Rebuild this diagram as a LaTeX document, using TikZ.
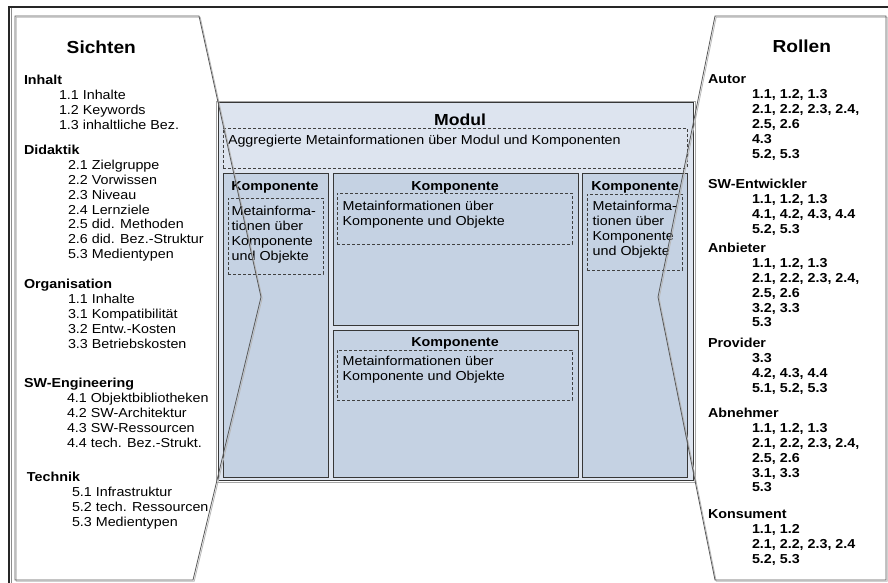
\documentclass[tikz,border=0pt]{standalone}
\usepackage{fontspec}
\setmainfont{Liberation Sans}[FakeStretch=1.1]
\definecolor{modfill}{RGB}{221,228,239}
\definecolor{compfill}{RGB}{197,210,227}
\definecolor{edgecol}{RGB}{55,55,55}
\newcommand\myind[1]{\hspace*{#1pt}}
\tikzset{
  grp/.style={anchor=north west, inner sep=0pt, outer sep=0pt, align=left, font=\fontsize{13}{14.9}\selectfont},
  rgrp/.style={grp, font=\bfseries\fontsize{13}{14.9}\selectfont},
  bigtitle/.style={anchor=base, inner sep=0pt, font=\bfseries\fontsize{17.4}{20}\selectfont},
  modtitle/.style={anchor=base, inner sep=0pt, font=\bfseries\fontsize{16}{18}\selectfont},
  comptitle/.style={anchor=base, inner sep=0pt, font=\bfseries\fontsize{13}{15}\selectfont},
  boxbase/.style={anchor=north west, inner sep=0pt, outer sep=0pt},
  modbox/.style={boxbase, fill=modfill, draw=edgecol, line width=1pt},
  modring/.style={boxbase, draw=black!35, line width=0.8pt},
  compbox/.style={boxbase, fill=compfill, draw=edgecol, line width=0.8pt},
  dashbox/.style={boxbase, draw=black!75, dash pattern=on 3pt off 2pt, line width=0.7pt},
  panel/.style={draw=black!65, line width=0.8pt, line join=miter},
  panelshadow/.style={draw=black!28, line width=0.8pt, line join=miter},
}
\begin{document}
\begin{tikzpicture}[x=1pt,y=-1pt]
\useasboundingbox (0,0) rectangle (888,583);
\clip (0,0) rectangle (888,583);
\fill[white] (0,0) rectangle (888,583);
% outer frame
\draw[black!85, line width=1.3pt] (9,600) -- (9,7) -- (900,7);
\draw[black!45, line width=0.8pt] (11.5,8.5) -- (11.5,600);

% Modul
\node[modring, minimum width=479pt, minimum height=381pt] (modring) at (216,101) {};
\node[modbox, minimum width=475pt, minimum height=377pt] (modul) at (218,103) {};
\node[modtitle] (modt) at (460,125) {Modul};
\node[dashbox, minimum width=464pt, minimum height=40pt] (aggr) at (223,128) {};
\node[grp] (aggrt) at (228,134.6) {Aggregierte Metainformationen über Modul und Komponenten};

% components
\node[compbox, minimum width=105pt, minimum height=304pt] (c1) at (223,173) {};
\node[compbox, minimum width=245pt, minimum height=152pt] (c2) at (333,173) {};
\node[compbox, minimum width=245pt, minimum height=147pt] (c3) at (333,330) {};
\node[compbox, minimum width=105pt, minimum height=304pt] (c4) at (582,173) {};

\node[comptitle] (t1) at (275,190.5) {Komponente};
\node[comptitle] (t2) at (455,190.5) {Komponente};
\node[comptitle] (t3) at (455,346.7) {Komponente};
\node[comptitle] (t4) at (635,190.5) {Komponente};

\node[dashbox, minimum width=95pt, minimum height=76pt] (d1) at (228,198) {};
\node[dashbox, minimum width=235pt, minimum height=51pt] (d2) at (337,193) {};
\node[dashbox, minimum width=235pt, minimum height=50pt] (d3) at (337,350) {};
\node[dashbox, minimum width=95pt, minimum height=76pt] (d4) at (587,194) {};

\node[grp] (m1) at (231.7,206) {Metainforma-\\tionen über\\Komponente\\und Objekte};
\node[grp] (m2) at (342.7,201.3) {Metainformationen über\\Komponente und Objekte};
\node[grp] (m3) at (342.7,356.3) {Metainformationen über\\Komponente und Objekte};
\node[grp] (m4) at (592.7,201.3) {Metainforma-\\tionen über\\Komponente\\und Objekte};

% panels
\draw[panelshadow, shift={(1.2,1.2)}] (15,16) -- (199,16) -- (261,297) -- (193,580) -- (15,580) -- cycle;
\draw[panel] (15,16) -- (199,16) -- (261,297) -- (193,580) -- (15,580) -- cycle;
\draw[panelshadow, shift={(1.2,1.2)}] (715,16) -- (886,16) -- (886,580) -- (715,580) -- (658,297) -- cycle;
\draw[panel] (715,16) -- (886,16) -- (886,580) -- (715,580) -- (658,297) -- cycle;

% Sichten
\node[bigtitle] (sichten) at (101.3,53.3) {Sichten};
\node[grp] (g1) at (24,75) {\textbf{Inhalt}\\\myind{35}1.1 Inhalte\\\myind{35}1.2 Keywords\\\myind{35}1.3 inhaltliche Bez.};
\node[grp] (g2) at (24,145) {\textbf{Didaktik}\\\myind{44}2.1 Zielgruppe\\\myind{44}2.2 Vorwissen\\\myind{44}2.3 Niveau\\\myind{44}2.4 Lernziele\\\myind{44}2.5 did. Methoden\\\myind{44}2.6 did. Bez.-Struktur\\\myind{44}5.3 Medientypen};
\node[grp] (g3) at (24,279) {\textbf{Organisation}\\\myind{44}1.1 Inhalte\\\myind{44}3.1 Kompatibilität\\\myind{44}3.2 Entw.-Kosten\\\myind{44}3.3 Betriebskosten};
\node[grp] (g4) at (24,378) {\textbf{SW-Engineering}\\\myind{43}4.1 Objektbibliotheken\\\myind{43}4.2 SW-Architektur\\\myind{43}4.3 SW-Ressourcen\\\myind{43}4.4 tech. Bez.-Strukt.};
\node[grp] (g5) at (27,472) {\textbf{Technik}\\\myind{45}5.1 Infrastruktur\\\myind{45}5.2 tech. Ressourcen\\\myind{45}5.3 Medientypen};

% Rollen
\node[bigtitle] (rollen) at (801.8,52.7) {Rollen};
\node[rgrp] (r1) at (708,75) {Autor\\\myind{44}1.1, 1.2, 1.3\\\myind{44}2.1, 2.2, 2.3, 2.4,\\\myind{44}2.5, 2.6\\\myind{44}4.3\\\myind{44}5.2, 5.3};
\node[rgrp] (r2) at (708,179) {SW-Entwickler\\\myind{44}1.1, 1.2, 1.3\\\myind{44}4.1, 4.2, 4.3, 4.4\\\myind{44}5.2, 5.3};
\node[rgrp] (r3) at (708,243) {Anbieter\\\myind{44}1.1, 1.2, 1.3\\\myind{44}2.1, 2.2, 2.3, 2.4,\\\myind{44}2.5, 2.6\\\myind{44}3.2, 3.3\\\myind{44}5.3};
\node[rgrp] (r4) at (708,338) {Provider\\\myind{44}3.3\\\myind{44}4.2, 4.3, 4.4\\\myind{44}5.1, 5.2, 5.3};
\node[rgrp] (r5) at (708,408) {Abnehmer\\\myind{44}1.1, 1.2, 1.3\\\myind{44}2.1, 2.2, 2.3, 2.4,\\\myind{44}2.5, 2.6\\\myind{44}3.1, 3.3\\\myind{44}5.3};
\node[rgrp] (r6) at (708,510) {Konsument\\\myind{44}1.1, 1.2\\\myind{44}2.1, 2.2, 2.3, 2.4\\\myind{44}5.2, 5.3};
\end{tikzpicture}
\end{document}
